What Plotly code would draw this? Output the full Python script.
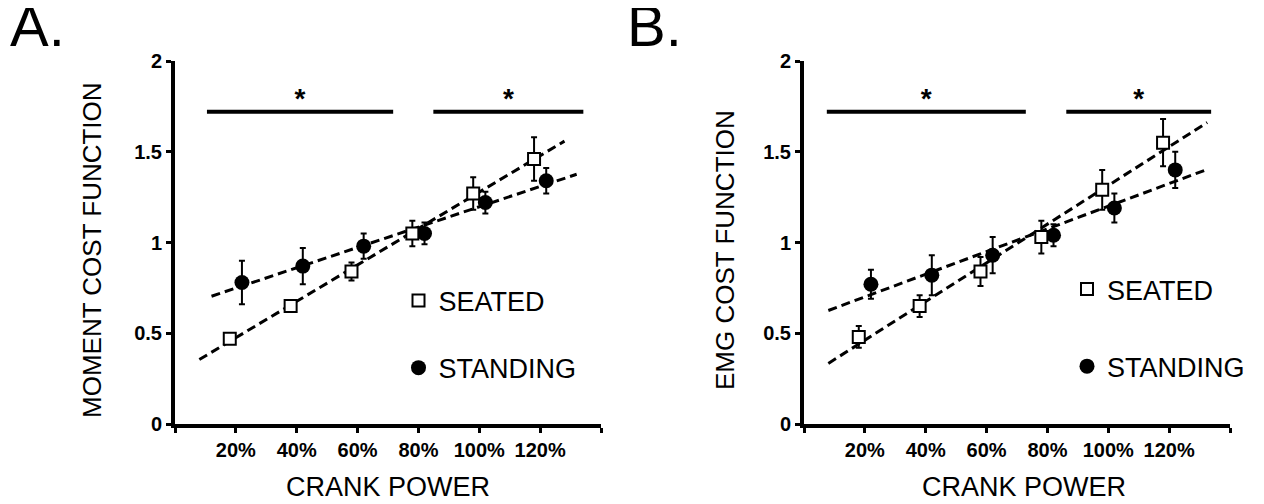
import numpy as np
import plotly.graph_objects as go

FONT = "Liberation Sans, Arial, sans-serif"

# crank power levels (% of reference); seated drawn 2% left, standing 2% right
POWER = [20, 40, 60, 80, 100, 120]
POWER_LABELS = ["20%", "40%", "60%", "80%", "100%", "120%"]
SHIFT = 2

# panel A - moment cost function
moment_seated = [0.47, 0.65, 0.84, 1.05, 1.27, 1.46]
moment_seated_err = [0.02, 0.03, 0.05, 0.07, 0.09, 0.12]
moment_standing = [0.78, 0.87, 0.98, 1.05, 1.22, 1.34]
moment_standing_err = [0.12, 0.10, 0.07, 0.06, 0.06, 0.07]

# panel B - EMG cost function
emg_seated = [0.48, 0.65, 0.84, 1.03, 1.29, 1.55]
emg_seated_err = [0.06, 0.06, 0.08, 0.09, 0.11, 0.13]
emg_standing = [0.77, 0.82, 0.93, 1.04, 1.19, 1.40]
emg_standing_err = [0.08, 0.11, 0.10, 0.06, 0.08, 0.10]

# extent of the linear trendlines (x in % power)
trend_a = {"seated": (8, 128), "standing": (12, 132)}
trend_b = {"seated": (8, 132.5), "standing": (8, 131.5)}

# significance bars: x spans and height
sig_a = [(10.5, 71.7), (84.9, 134.2)]
sig_b = [(7.5, 72.9), (86.2, 133.8)]
SIG_Y = 1.72
STAR_Y = 1.78

W, H = 1264, 504
OFF = 8  # the page body puts the plot 8px in from the top-left corner
FW, FH = W - OFF, H - OFF


def fx(px):
    return (px - OFF) / FW


def fy(py):
    return (H - py) / FH


def add_panel(fig, xa, ya, legend, seated, seated_err, standing, standing_err, trend, sig):
    xs = [p - SHIFT for p in POWER]
    xt = [p + SHIFT for p in POWER]

    # dashed linear fits
    for x, y, key in ((xs, seated, "seated"), (xt, standing, "standing")):
        k, b = np.polyfit(x, y, 1)
        x0, x1 = trend[key]
        fig.add_trace(go.Scatter(
            x=[x0, x1], y=[k * x0 + b, k * x1 + b], mode="lines",
            line=dict(color="black", width=3, dash="9px,5px"),
            xaxis=xa, yaxis=ya, showlegend=False, hoverinfo="skip"))

    fig.add_trace(go.Scatter(
        x=xt, y=standing, mode="markers", name="STANDING",
        marker=dict(symbol="circle", size=15, color="black"),
        error_y=dict(type="data", array=standing_err, color="black", thickness=2, width=3),
        xaxis=xa, yaxis=ya, legend=legend, legendgroup=legend + "st", legendrank=2))
    fig.add_trace(go.Scatter(
        x=xs, y=seated, mode="markers", name="SEATED",
        marker=dict(symbol="square", size=12, color="white", line=dict(color="black", width=2)),
        error_y=dict(type="data", array=seated_err, color="black", thickness=2, width=3),
        xaxis=xa, yaxis=ya, legend=legend, legendgroup=legend + "se", legendrank=1))

    for x0, x1 in sig:
        fig.add_trace(go.Scatter(
            x=[x0, x1], y=[SIG_Y, SIG_Y], mode="lines",
            line=dict(color="black", width=4),
            xaxis=xa, yaxis=ya, showlegend=False, hoverinfo="skip"))
        fig.add_trace(go.Scatter(
            x=[(x0 + x1) / 2], y=[STAR_Y], mode="text", text=["*"],
            textfont=dict(size=28, color="black", family=FONT, weight="bold"),
            xaxis=xa, yaxis=ya, showlegend=False, hoverinfo="skip"))


fig = go.Figure()
add_panel(fig, "x", "y", "legend", moment_seated, moment_seated_err,
          moment_standing, moment_standing_err, trend_a, sig_a)
add_panel(fig, "x2", "y2", "legend2", emg_seated, emg_seated_err,
          emg_standing, emg_standing_err, trend_b, sig_b)

xaxis_style = dict(
    range=[0, 140], showline=True, linewidth=4, linecolor="black",
    ticks="outside", ticklen=5, tickwidth=3, tickcolor="black",
    tickvals=[0] + POWER + [140], ticktext=[""] + POWER_LABELS + [""],
    tickfont=dict(size=20, color="black", family=FONT, weight="bold"),
    ticklabelstandoff=0, showgrid=False, zeroline=False, fixedrange=True,
    automargin=False)
yaxis_style = dict(
    range=[0, 2], showline=True, linewidth=4, linecolor="black",
    ticks="outside", ticklen=5, tickwidth=3, tickcolor="black",
    tickvals=[0, 0.5, 1, 1.5, 2], ticktext=["0", "0.5", "1", "1.5", "2"],
    tickfont=dict(size=20, color="black", family=FONT, weight="bold"),
    showgrid=False, zeroline=False, fixedrange=True, automargin=False)

ydom = [fy(424), fy(61)]
legend_style = dict(xanchor="left", yanchor="top", bgcolor="rgba(0,0,0,0)",
                    font=dict(size=27, color="black", family=FONT), itemclick=False)

fig.update_layout(
    width=FW, height=FH, margin=dict(l=0, r=0, t=0, b=0, autoexpand=False),
    paper_bgcolor="white", plot_bgcolor="white",
    font=dict(family=FONT, color="black"),
    xaxis=dict(domain=[fx(175), fx(601)], anchor="y", **xaxis_style),
    yaxis=dict(domain=ydom, anchor="x", **yaxis_style),
    xaxis2=dict(domain=[fx(804), fx(1230)], anchor="y2", **xaxis_style),
    yaxis2=dict(domain=ydom, anchor="x2", **yaxis_style),
    legend=dict(x=fx(418.5 - 20), y=fy(276.5), tracegroupgap=29, **legend_style),
    legend2=dict(x=fx(1087 - 20), y=fy(265), tracegroupgap=39, **legend_style),
    showlegend=True,
    annotations=[
        dict(text="A.", x=fx(8), y=fy(-9), xref="paper", yref="paper", xanchor="left", yanchor="top",
             showarrow=False, font=dict(size=58, family=FONT)),
        dict(text="B.", x=fx(625), y=fy(-9), xref="paper", yref="paper", xanchor="left", yanchor="top",
             showarrow=False, font=dict(size=58, family=FONT)),
        dict(text="MOMENT COST FUNCTION", x=fx(92), y=fy(250), xref="paper", yref="paper",
             xanchor="center", yanchor="middle",
             textangle=-90, showarrow=False, font=dict(size=26, family=FONT)),
        dict(text="EMG COST FUNCTION", x=fx(725), y=fy(250), xref="paper", yref="paper",
             xanchor="center", yanchor="middle",
             textangle=-90, showarrow=False, font=dict(size=26, family=FONT)),
        dict(text="CRANK POWER", x=fx(388), y=fy(487), xref="paper", yref="paper",
             xanchor="center", yanchor="middle",
             showarrow=False, font=dict(size=27, family=FONT)),
        dict(text="CRANK POWER", x=fx(1024), y=fy(487), xref="paper", yref="paper",
             xanchor="center", yanchor="middle",
             showarrow=False, font=dict(size=27, family=FONT)),
    ],
)

fig.write_html("out.html")
